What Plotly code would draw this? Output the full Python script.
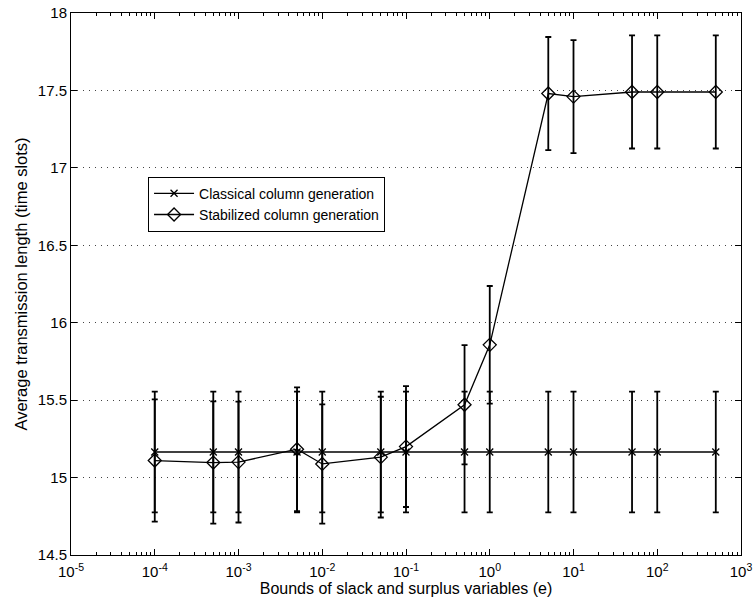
import plotly.graph_objects as go

x_vals = [1e-4, 5e-4, 1e-3, 5e-3, 1e-2, 5e-2, 1e-1, 5e-1, 1, 5, 10, 50, 100, 500]
classical_mean = [15.165] * 14
classical_err = [0.39] * 14
stabilized_mean = [15.11, 15.097, 15.10, 15.183, 15.088, 15.132, 15.20, 15.47, 15.857, 17.48, 17.46, 17.49, 17.49, 17.49]
stabilized_err = [0.395, 0.395, 0.39, 0.40, 0.385, 0.39, 0.39, 0.385, 0.38, 0.365, 0.365, 0.365, 0.365, 0.365]

x_tickvals = [1e-5, 1e-4, 1e-3, 1e-2, 1e-1, 1, 10, 100, 1000]
x_ticktext = ["10<sup>-5</sup>", "10<sup>-4</sup>", "10<sup>-3</sup>", "10<sup>-2</sup>", "10<sup>-1</sup>",
              "10<sup>0</sup>", "10<sup>1</sup>", "10<sup>2</sup>", "10<sup>3</sup>"]
y_tickvals = [14.5, 15, 15.5, 16, 16.5, 17, 17.5, 18]
y_ticktext = ["14.5", "15", "15.5", "16", "16.5", "17", "17.5", "18"]

# minor tick positions (2..9 within each decade)
minor_vals = [m * d for d in x_tickvals[:-1] for m in range(2, 10)]

FONT = "Liberation Sans, Arial, sans-serif"

fig = go.Figure()
fig.add_trace(go.Scatter(
    x=x_vals, y=classical_mean, mode="lines+markers", name="Classical column generation",
    line=dict(color="black", width=1.3),
    marker=dict(symbol="x-thin-open", size=7, color="black", line=dict(width=1.3, color="black")),
    error_y=dict(type="data", array=classical_err, color="black", thickness=1.8, width=3),
))
fig.add_trace(go.Scatter(
    x=x_vals, y=stabilized_mean, mode="lines+markers", name="Stabilized column generation",
    line=dict(color="black", width=1.3),
    marker=dict(symbol="diamond-open", size=10, color="black", line=dict(width=1.3, color="black")),
    error_y=dict(type="data", array=stabilized_err, color="black", thickness=1.8, width=3),
))
# carrier trace for the minor-tick axis
fig.add_trace(go.Scatter(x=x_vals[:1], y=classical_mean[:1], xaxis="x2", mode="markers",
                         marker=dict(opacity=0), showlegend=False, hoverinfo="skip"))

fig.update_layout(
    width=756, height=607,
    margin=dict(l=71, r=15, t=13, b=52),
    paper_bgcolor="white", plot_bgcolor="white",
    font=dict(family=FONT, size=15, color="black"),
    showlegend=True,
    legend=dict(x=0.115, y=0.698, xanchor="left", yanchor="top",
                bordercolor="black", borderwidth=1, bgcolor="white",
                font=dict(family=FONT, size=14, color="black"),
                tracegroupgap=0, itemwidth=40),
    xaxis=dict(type="log", range=[-5, 3], tickvals=x_tickvals, ticktext=x_ticktext,
               ticks="inside", ticklen=6, tickcolor="black", showline=True, linecolor="black",
               linewidth=1, mirror="ticks", showgrid=False, zeroline=False, automargin=False,
               tickfont=dict(size=15), ticklabelstandoff=3,
               title=dict(text="Bounds of slack and surplus variables (e)", standoff=2,
                          font=dict(size=16))),
    xaxis2=dict(type="log", range=[-5, 3], overlaying="x", side="bottom", tickvals=minor_vals,
                ticks="inside", ticklen=3, tickcolor="black", showticklabels=False,
                showline=False, mirror="ticks", showgrid=False, zeroline=False, automargin=False),
    yaxis=dict(range=[14.5, 18], tickvals=y_tickvals, ticktext=y_ticktext,
               ticks="inside", ticklen=6, tickcolor="black", showline=True, linecolor="black",
               linewidth=1, mirror="ticks", showgrid=True, gridcolor="#444444",
               griddash="1px,5px", gridwidth=1, zeroline=False, automargin=False,
               tickfont=dict(size=15),
               title=dict(text="Average transmission length (time slots)", standoff=6,
                          font=dict(size=16.5))),
)
fig.write_html("out.html")
